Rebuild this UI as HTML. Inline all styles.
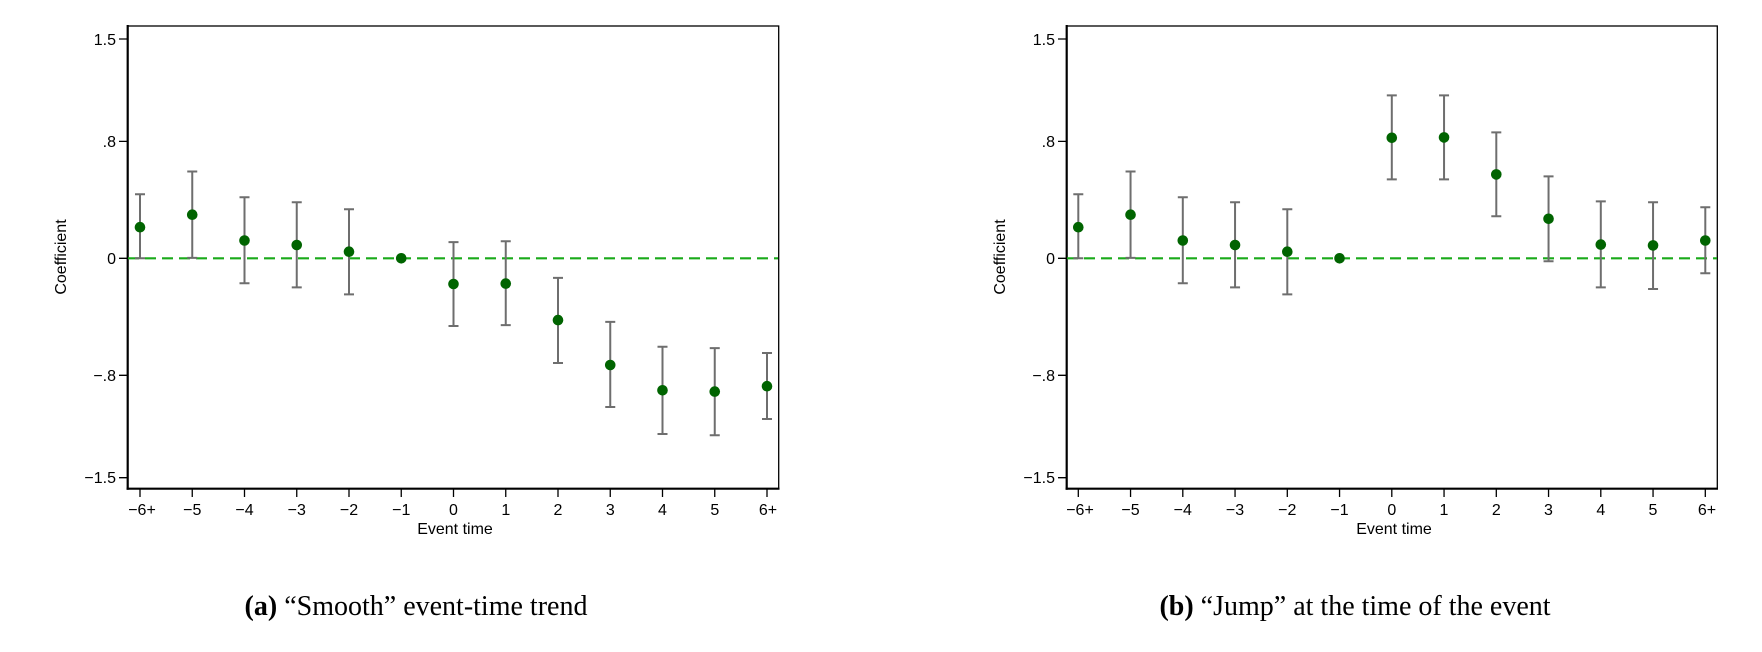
<!DOCTYPE html>
<html><head><meta charset="utf-8"><style>body{margin:0;background:#fff}svg{display:block}</style></head>
<body>
<svg width="1762" height="652" xmlns="http://www.w3.org/2000/svg" font-family="Liberation Sans, Arial, sans-serif">
<g id="a">
<rect x="127.7" y="26" width="651" height="462.7" fill="none" stroke="#000" stroke-width="1.3"/>
<line x1="127.7" y1="25" x2="127.7" y2="489.7" stroke="#000" stroke-width="2.2"/>
<line x1="126.6" y1="488.7" x2="779.5" y2="488.7" stroke="#000" stroke-width="2.2"/>
<path stroke="#000" stroke-width="1.3" d="M119 39H127M119 141.4H127M119 258.3H127M119 375.3H127M119 477.7H127
M140 489V497M192.25 489V497M244.5 489V497M296.75 489V497M349 489V497M401.25 489V497M453.5 489V497M505.75 489V497M558 489V497M610.25 489V497M662.5 489V497M714.75 489V497M767 489V497"/>
<g font-size="16" text-anchor="end" fill="#000">
<text x="116" y="45">1.5</text><text x="116" y="147">.8</text><text x="116" y="264">0</text><text x="116" y="381">−.8</text><text x="116" y="483">−1.5</text>
</g>
<g font-size="16" text-anchor="middle">
<text x="142" y="515">−6+</text><text x="192.3" y="515">−5</text><text x="244.5" y="515">−4</text><text x="296.8" y="515">−3</text><text x="349" y="515">−2</text><text x="401.3" y="515">−1</text><text x="453.5" y="515">0</text><text x="505.8" y="515">1</text><text x="558" y="515">2</text><text x="610.3" y="515">3</text><text x="662.5" y="515">4</text><text x="714.8" y="515">5</text><text x="768" y="515">6+</text>
</g>
<text x="455" y="534" font-size="16" text-anchor="middle">Event time</text>
<text transform="translate(66,257) rotate(-90)" font-size="16" text-anchor="middle">Coefficient</text>
<line x1="128" y1="258.3" x2="778" y2="258.3" stroke="#1aaa1a" stroke-width="2.2" stroke-dasharray="11,6"/>
<path fill="none" stroke="#6e6e6e" stroke-width="2" d="
M140 194.3V258.3M135 194.3H145M135 258.3H145
M192.25 171.5V257.9M187.25 171.5H197.25M187.25 257.9H197.25
M244.5 197.2V283.2M239.5 197.2H249.5M239.5 283.2H249.5
M296.75 202.2V287.4M291.75 202.2H301.75M291.75 287.4H301.75
M349 209.3V294.4M344 209.3H354M344 294.4H354
M453.5 242.1V326M448.5 242.1H458.5M448.5 326H458.5
M505.75 241.3V325.1M500.75 241.3H510.75M500.75 325.1H510.75
M558 277.9V363M553 277.9H563M553 363H563
M610.25 321.9V407M605.25 321.9H615.25M605.25 407H615.25
M662.5 346.8V434M657.5 346.8H667.5M657.5 434H667.5
M714.75 348.1V435.2M709.75 348.1H719.75M709.75 435.2H719.75
M767 353V419M762 353H772M762 419H772"/>
<g fill="#006400">
<circle cx="140" cy="227.2" r="5.3"/><circle cx="192.25" cy="214.7" r="5.3"/><circle cx="244.5" cy="240.5" r="5.3"/><circle cx="296.75" cy="245" r="5.3"/><circle cx="349" cy="251.7" r="5.3"/><circle cx="401.25" cy="258.3" r="5.3"/><circle cx="453.5" cy="284" r="5.3"/><circle cx="505.75" cy="283.6" r="5.3"/><circle cx="558" cy="320.1" r="5.3"/><circle cx="610.25" cy="365" r="5.3"/><circle cx="662.5" cy="390.3" r="5.3"/><circle cx="714.75" cy="391.6" r="5.3"/><circle cx="767" cy="386.2" r="5.3"/>
</g>
</g>
<g id="b">
<rect x="1066.7" y="26" width="650.6" height="462.7" fill="none" stroke="#000" stroke-width="1.3"/>
<line x1="1066.7" y1="25" x2="1066.7" y2="489.7" stroke="#000" stroke-width="2.2"/>
<line x1="1065.6" y1="488.7" x2="1718" y2="488.7" stroke="#000" stroke-width="2.2"/>
<path stroke="#000" stroke-width="1.3" d="M1058 39H1066M1058 141.4H1066M1058 258.3H1066M1058 375.3H1066M1058 477.7H1066
M1078.3 489V497M1130.55 489V497M1182.8 489V497M1235.05 489V497M1287.3 489V497M1339.55 489V497M1391.8 489V497M1444.05 489V497M1496.3 489V497M1548.55 489V497M1600.8 489V497M1653.05 489V497M1705.3 489V497"/>
<g font-size="16" text-anchor="end">
<text x="1055" y="45">1.5</text><text x="1055" y="147">.8</text><text x="1055" y="264">0</text><text x="1055" y="381">−.8</text><text x="1055" y="483">−1.5</text>
</g>
<g font-size="16" text-anchor="middle">
<text x="1080" y="515">−6+</text><text x="1130.5" y="515">−5</text><text x="1182.8" y="515">−4</text><text x="1235" y="515">−3</text><text x="1287.3" y="515">−2</text><text x="1339.5" y="515">−1</text><text x="1391.8" y="515">0</text><text x="1444" y="515">1</text><text x="1496.3" y="515">2</text><text x="1548.5" y="515">3</text><text x="1600.8" y="515">4</text><text x="1653" y="515">5</text><text x="1707" y="515">6+</text>
</g>
<text x="1394" y="534" font-size="16" text-anchor="middle">Event time</text>
<text transform="translate(1005,257) rotate(-90)" font-size="16" text-anchor="middle">Coefficient</text>
<line x1="1067" y1="258.3" x2="1717" y2="258.3" stroke="#1aaa1a" stroke-width="2.2" stroke-dasharray="11,6"/>
<path fill="none" stroke="#6e6e6e" stroke-width="2" d="
M1078.3 194.3V258.3M1073.3 194.3H1083.3M1073.3 258.3H1083.3
M1130.55 171.5V257.9M1125.55 171.5H1135.55M1125.55 257.9H1135.55
M1182.8 197.2V283.2M1177.8 197.2H1187.8M1177.8 283.2H1187.8
M1235.05 202.2V287.4M1230.05 202.2H1240.05M1230.05 287.4H1240.05
M1287.3 209.3V294.4M1282.3 209.3H1292.3M1282.3 294.4H1292.3
M1391.8 95.4V179.4M1386.8 95.4H1396.8M1386.8 179.4H1396.8
M1444.05 95.4V179.4M1439.05 95.4H1449.05M1439.05 179.4H1449.05
M1496.3 132.4V216.3M1491.3 132.4H1501.3M1491.3 216.3H1501.3
M1548.55 176.4V261.2M1543.55 176.4H1553.55M1543.55 261.2H1553.55
M1600.8 201.4V287.4M1595.8 201.4H1605.8M1595.8 287.4H1605.8
M1653.05 202.2V289M1648.05 202.2H1658.05M1648.05 289H1658.05
M1705.3 207.3V273.2M1700.3 207.3H1710.3M1700.3 273.2H1710.3"/>
<g fill="#006400">
<circle cx="1078.3" cy="227.2" r="5.3"/><circle cx="1130.55" cy="214.7" r="5.3"/><circle cx="1182.8" cy="240.5" r="5.3"/><circle cx="1235.05" cy="245" r="5.3"/><circle cx="1287.3" cy="251.7" r="5.3"/><circle cx="1339.55" cy="258.3" r="5.3"/><circle cx="1391.8" cy="137.8" r="5.3"/><circle cx="1444.05" cy="137.4" r="5.3"/><circle cx="1496.3" cy="174.4" r="5.3"/><circle cx="1548.55" cy="218.8" r="5.3"/><circle cx="1600.8" cy="244.6" r="5.3"/><circle cx="1653.05" cy="245.4" r="5.3"/><circle cx="1705.3" cy="240.5" r="5.3"/>
</g>
</g>
<text x="416" y="615" font-family="Liberation Serif, serif" font-size="28" text-anchor="middle"><tspan font-weight="bold">(a)</tspan> “Smooth” event-time trend</text>
<text x="1355" y="615" font-family="Liberation Serif, serif" font-size="28" text-anchor="middle"><tspan font-weight="bold">(b)</tspan> “Jump” at the time of the event</text>
</svg>
</body></html>
